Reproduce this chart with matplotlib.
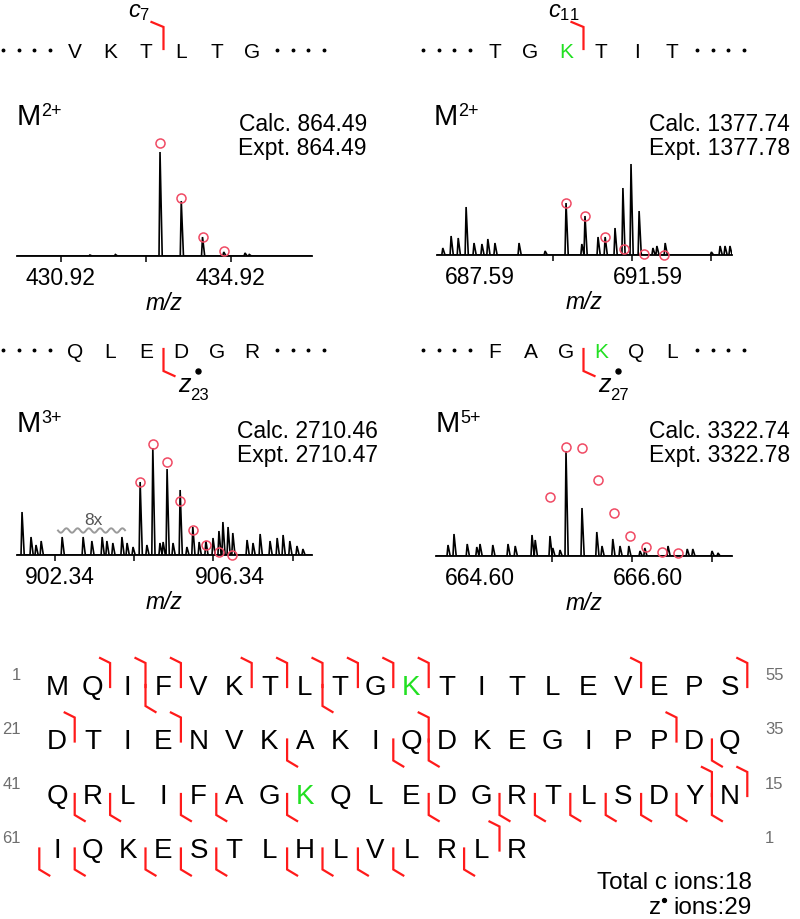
import numpy as np
import matplotlib.pyplot as plt

plt.rcParams['font.family'] = ['Liberation Sans', 'DejaVu Sans']
plt.rcParams['mathtext.fontset'] = 'custom'
plt.rcParams['mathtext.rm'] = 'Liberation Sans'
plt.rcParams['mathtext.it'] = 'Liberation Sans:italic'
plt.rcParams['mathtext.bf'] = 'Liberation Sans:bold'

RED = '#ff1a1a'
GREEN = '#22e022'
CIRC = '#f04a64'
GRAY = '#6e6e6e'

# ---- data -------------------------------------------------------------
sequence = "MQIFVKTLTGKTITLEVEPSDTIENVKAKIQDKEGIPPDQQRLIFAGKQLEDGRTLSDYNIQKESTLHLVLRLR"
green_sites = [11, 48]
c_sites = [2, 3, 4, 6, 7, 8, 9, 10, 11, 17, 20, 21, 24, 31, 38, 59, 60, 73]
z_sites = [3, 8, 27, 30, 31, 39, 41, 42, 44, 45, 47, 51, 53, 54, 55, 56, 57, 58,
           59, 60, 61, 63, 64, 65, 67, 68, 69, 70, 72]
left_numbers = ['1', '21', '41', '61']
right_numbers = ['55', '35', '15', '1']

# panel A: c7, M2+
A_mz = [431.60, 432.20, 433.25, 433.75, 434.25, 434.75, 435.25, 435.35]
A_int = [1, 1.5, 104, 55, 19, 4, 3, 1.5]
A_iso_mz = [433.25, 433.75, 434.25, 434.75]
A_iso_int = [113, 58, 19, 5]
A_ticks = [430.92, 432.92, 434.92]
A_labels = ['430.92', '434.92']

# panel B: c11, M2+
B_mz = [686.80, 687.01, 687.19, 687.39, 687.59, 687.79, 687.94, 688.12, 688.73,
        689.39, 689.92, 690.32, 690.40, 690.73, 690.91, 691.16, 691.36, 691.565,
        691.77, 692.12, 692.22, 692.43, 693.60, 693.82, 693.945, 694.07]
B_int = [7, 19, 17, 48, 12, 11, 16, 12, 12, 4, 52, 11, 39, 18, 18, 27, 67, 91,
         44, 7, 9, 12, 3, 9, 9, 9]
B_iso_mz = [689.92, 690.40, 690.91, 691.39, 691.89, 692.40]
B_iso_int = [52, 39, 18, 6, 1, 0]
B_ticks = [689.59, 691.59, 693.59]
B_labels = ['687.59', '691.59']

# panel C: z23, M3+
C_mz = [901.507, 901.734, 901.86, 901.99, 902.52, 903.05, 903.27, 903.53, 903.65,
        903.80, 904.03, 904.16, 904.31, 904.49, 904.66, 904.81, 904.99, 905.07,
        905.17, 905.32, 905.50, 905.67, 905.82, 905.98, 906.15, 906.33, 906.48,
        906.58, 906.71, 906.83, 907.19, 907.34, 907.52, 907.77, 907.95, 908.10,
        908.27, 908.45, 908.60]
C_int = [43, 18, 10, 14, 18, 18, 14, 18, 14, 12, 18, 12, 8, 73, 10, 107, 12, 13,
         86, 12, 65, 8, 28, 13, 14, 17, 24, 33, 28, 22, 15, 12, 21, 14, 17, 20,
         14, 9, 6]
C_iso_mz = [904.49, 904.82, 905.16, 905.49, 905.82, 906.16, 906.49, 906.82]
C_iso_int = [73, 111, 93, 54, 25, 10, 3, 0]
C_ticks = [902.34, 904.34, 906.34, 908.34]
C_labels = ['902.34', '906.34']

# panel D: z27, M5+
D_mz = [664.30, 664.375, 664.54, 664.66, 664.70, 664.86, 665.05, 665.14, 665.35,
        665.39, 665.575, 665.61, 665.70, 665.775, 665.975, 666.16, 666.225,
        666.36, 666.45, 666.56, 666.70, 666.76, 667.05, 667.29, 667.36, 667.60,
        667.675]
D_int = [11, 22, 12, 9, 12, 11, 12, 10, 21, 16, 20, 8, 6, 105, 48, 24, 10, 17,
         10, 10, 5, 8, 10, 7, 7, 5, 3]
D_iso_mz = [665.575, 665.775, 665.975, 666.175, 666.375, 666.575, 666.775,
            666.975, 667.175]
D_iso_int = [59, 109, 108, 76, 43, 20, 9, 4, 3]
D_ticks = [665.60, 666.60, 667.60]
D_labels = ['664.60', '666.60']

# ---- figure -----------------------------------------------------------
fig = plt.figure(figsize=(8, 9.2), dpi=100)
ax0 = fig.add_axes([0, 0, 1, 1])
ax0.set_xlim(0, 800)
ax0.set_ylim(920, 0)
ax0.axis('off')


def spectrum(x0, x1, ybase, xlim, mz, inten, iso_mz, iso_int, ticks,
             label_pos, labels):
    ax = fig.add_axes([x0 / 800, 1 - ybase / 920, (x1 - x0) / 800, 120 / 920])
    ax.set_facecolor('none')
    ppu = (x1 - x0) / (xlim[1] - xlim[0])
    wl, wr = 1.0 / ppu, 2.2 / ppu
    xs, ys = [xlim[0]], [0]
    for m, h in sorted(zip(mz, inten)):
        xs += [m - wl, m, m + wr]
        ys += [0, h, 0]
    xs.append(xlim[1])
    ys.append(0)
    ax.plot(xs, ys, color='black', lw=1.2, solid_joinstyle='miter')
    ax.plot(iso_mz, iso_int, 'o', mfc='none', mec=CIRC, ms=6.5, mew=1.1,
            clip_on=False, zorder=5)
    ax.set_xlim(*xlim)
    ax.set_ylim(0, 120)
    for s in ['top', 'right', 'left']:
        ax.spines[s].set_visible(False)
    ax.spines['bottom'].set_linewidth(1.3)
    ax.set_yticks([])
    ax.set_xticks(label_pos)
    ax.set_xticklabels(labels, fontsize=16.5)
    ax.set_xticks(ticks, minor=True)
    ax.tick_params(axis='x', which='major', length=0, pad=7)
    ax.tick_params(axis='x', which='minor', length=4.5, width=1.1,
                   direction='out')
    ax.set_xlabel('m/z', fontsize=16.5, style='italic', labelpad=2)
    return ax


spectrum(17, 312, 257, (429.885, 436.826), A_mz, A_int, A_iso_mz, A_iso_int,
         A_ticks, [430.90, 434.90], A_labels)
spectrum(437, 732, 256, (686.653, 694.122), B_mz, B_int, B_iso_mz, B_iso_int,
         B_ticks, [687.74, 692.00], B_labels)
spectrum(17, 312, 556, (901.38, 908.83), C_mz, C_int, C_iso_mz, C_iso_int,
         C_ticks, [902.47, 906.76], C_labels)
spectrum(436, 732, 557, (664.15, 667.85), D_mz, D_int, D_iso_mz, D_iso_int,
         D_ticks, [664.70, 666.80], D_labels)

# precursor / mass labels
for (xm, yb, ch, xr, calc, expt) in [
        (18, 125, '2+', 367, '864.49', '864.49'),
        (435, 125, '2+', 790, '1377.74', '1377.78'),
        (18, 432, '3+', 378, '2710.46', '2710.47'),
        (437, 432, '5+', 790, '3322.74', '3322.78')]:
    ax0.text(xm - 1, yb, 'M', fontsize=21, ha='left', va='baseline')
    ax0.text(xm + 23, yb - 9, ch, fontsize=13, ha='left', va='baseline')
    ax0.text(xr, yb + 6, 'Calc. ' + calc, fontsize=16.5, ha='right',
             va='baseline')
    ax0.text(xr, yb + 30, 'Expt. ' + expt, fontsize=16.5, ha='right',
             va='baseline')

# 8x zoom marker with a grey squiggle under it
ax0.text(93, 525, '8x', fontsize=12.5, color='#555555', ha='center',
         va='baseline')
wave_x = np.linspace(58, 125, 120)
ax0.plot(wave_x, 531.5 + 2.2 * np.sin((wave_x - 58) / 11.2 * 2 * np.pi),
         color='#9a9a9a', lw=1.4)


# sequence snippets above the spectra
def snippet(x_first, yb, letters, green_idx, cut, kind, sub):
    dx = 35.4
    for k, aa in enumerate(letters):
        ax0.text(x_first + dx * k, yb, aa, fontsize=15, ha='center',
                 va='baseline', color=GREEN if k == green_idx else 'black')
    dots_l = [x_first - 72 + 15.7 * k for k in range(4)]
    dots_r = [x_first + dx * 5 + 25 + 15.7 * k for k in range(4)]
    ax0.plot(dots_l + dots_r, [yb - 7] * 8, 'o', color='black', ms=1.8)
    xc = x_first + dx * (cut + 0.5)
    if kind == 'c':
        ax0.plot([xc - 12, xc, xc], [yb - 35, yb - 30, yb - 8], color=RED,
                 lw=1.6, solid_joinstyle='miter')
        ax0.text(xc - 35, yb - 41, r'$c_{%s}$' % sub, fontsize=17,
                 ha='left', va='baseline')
    else:
        ax0.plot([xc, xc, xc + 11], [yb - 8, yb + 14, yb + 19], color=RED,
                 lw=1.6, solid_joinstyle='miter')
        ax0.text(xc + 15, yb + 34, 'z', fontsize=18, style='italic',
                 ha='left', va='baseline')
        ax0.plot([xc + 34], [yb + 14], 'o', color='black', ms=3.6)
        ax0.text(xc + 27, yb + 42, sub, fontsize=12, ha='left',
                 va='baseline')


snippet(75, 58, 'VKTLTG', -1, 2, 'c', '7')
snippet(495, 58, 'TGKTIT', 2, 2, 'c', '11')
snippet(75, 358, 'QLEDGR', -1, 2, 'z', '23')
snippet(495, 358, 'FAGKQL', 3, 2, 'z', '27')

# full sequence coverage map
seq_x0, seq_dx = 57, 35.4
row_y0, row_dy = 685, 54.5
for i, aa in enumerate(sequence):
    r, j = divmod(i, 20)
    ax0.text(seq_x0 + seq_dx * j, row_y0 + row_dy * r + 10, aa, fontsize=20,
             ha='center', va='baseline',
             color=GREEN if (i + 1) in green_sites else 'black')

for r in range(4):
    yc = row_y0 + row_dy * r
    ax0.text(21, yc - 5, left_numbers[r], fontsize=12, color=GRAY,
             ha='right', va='baseline')
    ax0.text(765, yc - 5, right_numbers[r], fontsize=12, color=GRAY,
             ha='left', va='baseline')

for k in c_sites:
    r, j = divmod(k - 1, 20)
    x = seq_x0 + seq_dx * (j + 0.5)
    yc = row_y0 + row_dy * r
    ax0.plot([x - 10, x, x], [yc - 26, yc - 21, yc + 3], color=RED, lw=1.6,
             solid_joinstyle='miter')

for k in z_sites:
    r, j = divmod(k, 20)
    x = seq_x0 + seq_dx * (j - 0.5)
    yc = row_y0 + row_dy * r
    ax0.plot([x, x, x + 10], [yc + 1, yc + 22, yc + 28], color=RED, lw=1.6,
             solid_joinstyle='miter')

ax0.text(752, 889, 'Total c ions:' + str(len(c_sites)), fontsize=17.5,
         ha='right', va='baseline')
ax0.text(649, 914, 'z', fontsize=17.5, ha='left', va='baseline')
ax0.plot([664], [901], 'o', color='black', ms=2.8)
ax0.text(752, 914, 'ions:' + str(len(z_sites)), fontsize=17.5,
         ha='right', va='baseline')

fig.savefig('out.png', dpi=100)
